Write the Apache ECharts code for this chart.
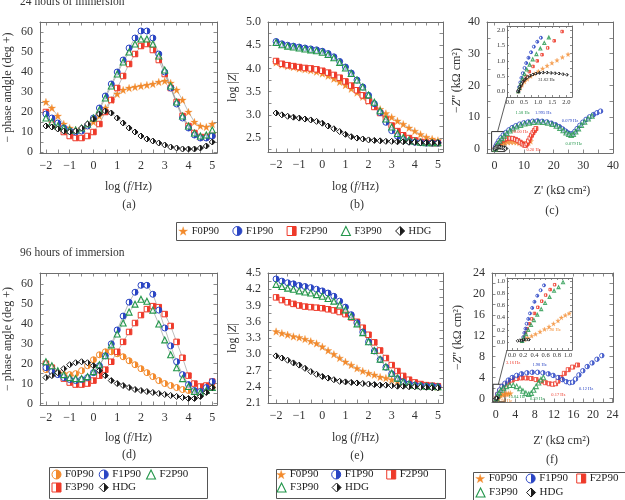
<!DOCTYPE html>
<html>
<head>
<meta charset="utf-8">
<script src="https://cdn.jsdelivr.net/npm/echarts@6/dist/echarts.min.js"></script>
<style>
  html, body { margin: 0; padding: 0; background: #fff; }
  #chart { width: 625px; height: 500px; }
</style>
</head>
<body>
<div id="chart"></div>
<script>
// ---- data ----
const logF = [-2, -1.75, -1.5, -1.25, -1, -0.75, -0.5, -0.25, 0, 0.25, 0.5, 0.75, 1, 1.25, 1.5, 1.75, 2, 2.25, 2.5, 2.75, 3, 3.25, 3.5, 3.75, 4, 4.25, 4.5, 4.75, 5];

// 24 h phase angle (deg)
const phase24_F0 = [25, 22, 18, 14, 12, 11, 11.5, 13, 15, 18, 22, 26, 29, 31, 32, 32.5, 33, 33.5, 34, 35, 35.5, 34.5, 31, 26, 20, 15, 13, 12.5, 14];
const phase24_F1 = [19, 17, 14.5, 12, 10.5, 10, 10.5, 13, 17, 22, 28, 34, 40, 46, 52, 57, 60.5, 60.5, 57, 49, 40, 32, 24, 17, 12, 8.5, 7, 7, 8];
const phase24_F2 = [20, 16, 13, 10, 8, 7, 7, 8, 10, 14, 20, 26, 32, 38, 44, 49, 53, 54, 51, 46, 39, 32, 25, 18, 13, 9.5, 7.5, 7.5, 8.5];
const phase24_F3 = [17, 15, 13, 12, 11, 11, 12, 14, 17, 21, 27, 33, 39, 45, 50, 54, 56.5, 56.5, 54, 48, 41, 33, 25, 18, 13, 9.5, 8, 8.5, 11];
const phase24_HDG = [13, 12.5, 11.5, 10.5, 10, 10.5, 12, 14, 16.5, 19, 20.5, 19.5, 17, 14.5, 12, 10, 8, 6.5, 5.5, 4.5, 3.5, 2.5, 2, 1.5, 1.5, 1.5, 2, 3, 5];

// 24 h log|Z|
const logZ24_F0 = [4.13, 4.08, 4.05, 4.03, 4.0, 3.98, 3.96, 3.93, 3.89, 3.84, 3.78, 3.71, 3.64, 3.56, 3.48, 3.39, 3.3, 3.21, 3.12, 3.03, 2.95, 2.87, 2.8, 2.72, 2.65, 2.58, 2.52, 2.48, 2.45];
const logZ24_F1 = [4.58, 4.53, 4.5, 4.48, 4.46, 4.44, 4.42, 4.4, 4.37, 4.32, 4.25, 4.15, 4.03, 3.9, 3.75, 3.6, 3.42, 3.24, 3.05, 2.84, 2.66, 2.54, 2.47, 2.43, 2.41, 2.4, 2.39, 2.39, 2.39];
const logZ24_F2 = [4.16, 4.1, 4.07, 4.05, 4.03, 4.01, 4.0, 3.98, 3.95, 3.91, 3.86, 3.8, 3.72, 3.63, 3.53, 3.42, 3.3, 3.17, 3.04, 2.9, 2.77, 2.65, 2.56, 2.5, 2.45, 2.42, 2.4, 2.39, 2.39];
const logZ24_F3 = [4.56, 4.51, 4.48, 4.46, 4.44, 4.42, 4.4, 4.38, 4.35, 4.3, 4.23, 4.13, 4.01, 3.89, 3.75, 3.6, 3.43, 3.27, 3.09, 2.91, 2.74, 2.6, 2.51, 2.46, 2.43, 2.41, 2.4, 2.4, 2.4];
const logZ24_HDG = [3.04, 3.0, 2.97, 2.95, 2.93, 2.91, 2.89, 2.86, 2.82, 2.76, 2.7, 2.64, 2.58, 2.53, 2.5, 2.48, 2.46, 2.45, 2.44, 2.43, 2.43, 2.42, 2.42, 2.41, 2.41, 2.4, 2.4, 2.4, 2.4];

// 24 h Nyquist (Z', -Z'') kOhm cm2
const nyq24_F0 = [[0.3, 0], [0.6, 0.5], [1.1, 0.9], [1.8, 1.3], [2.6, 1.6], [3.5, 1.9], [4.5, 2.1], [5.5, 2.2], [6.5, 2.2], [7.5, 2.1], [8.4, 1.9], [9.2, 1.7], [10.0, 1.6], [10.8, 1.7], [11.5, 2.0], [12.2, 2.4]];
const nyq24_F1 = [[0.28, 0], [0.4, 0.5], [0.6, 1.0], [0.95, 1.7], [1.5, 2.6], [2.2, 3.5], [3.0, 4.4], [3.9, 5.2], [4.9, 6.0], [6.0, 6.7], [7.2, 7.3], [8.5, 7.8], [9.9, 8.2], [11.4, 8.5], [12.9, 8.7], [14.5, 8.8], [16.1, 8.7], [17.7, 8.5], [19.2, 8.1], [20.6, 7.6], [21.9, 7.0], [23.0, 6.3], [24.0, 5.6], [24.9, 5.0], [25.7, 4.7], [26.4, 4.8], [27.1, 5.5], [27.9, 6.4], [28.8, 7.4], [29.8, 8.4], [30.9, 9.3], [32.1, 10.1], [33.4, 10.8], [34.6, 11.4], [35.8, 11.9]];
const nyq24_F2 = [[0.3, 0], [0.5, 0.5], [0.9, 1.1], [1.4, 1.7], [2.0, 2.2], [2.7, 2.7], [3.5, 3.0], [4.4, 3.25], [5.3, 3.35], [6.2, 3.3], [7.1, 3.0], [7.9, 2.6], [8.7, 2.1], [9.4, 1.6], [10.0, 1.2], [10.5, 1.1], [11.0, 1.6], [11.5, 2.5], [12.0, 3.4], [12.5, 4.3], [13.0, 5.1], [13.5, 5.8], [14.0, 6.4]];
const nyq24_F3 = [[0.28, 0], [0.45, 0.5], [0.7, 1.0], [1.2, 1.7], [1.8, 2.5], [2.5, 3.3], [3.3, 4.1], [4.2, 4.9], [5.2, 5.7], [6.3, 6.4], [7.5, 7.0], [8.8, 7.5], [10.2, 7.9], [11.7, 8.2], [13.2, 8.4], [14.8, 8.5], [16.4, 8.4], [18.0, 8.2], [19.5, 7.8], [20.9, 7.2], [22.1, 6.5], [23.2, 5.8], [24.2, 5.1], [25.1, 4.6], [25.9, 4.3], [26.6, 4.6], [27.4, 5.4], [28.3, 6.4], [29.3, 7.5], [30.4, 8.5], [31.6, 9.5], [32.9, 10.4]];
const nyq24_HDG = [[0.28, 0], [0.45, 0.35], [0.8, 0.58], [1.2, 0.63], [1.6, 0.6], [2.0, 0.55], [2.6, 0.42], [3.2, 0.25], [3.8, 0.12]];

// 24 h Nyquist inset (high-frequency end)
const ins24_F0 = [[0.3, 0.02], [0.36, 0.12], [0.43, 0.22], [0.52, 0.32], [0.62, 0.41], [0.74, 0.5], [0.87, 0.58], [1.01, 0.66], [1.16, 0.75], [1.32, 0.84], [1.49, 0.93], [1.67, 1.02], [1.86, 1.12], [2.06, 1.21]];
const ins24_F1 = [[0.3, 0.02], [0.33, 0.15], [0.37, 0.3], [0.41, 0.45], [0.46, 0.6], [0.52, 0.77], [0.58, 0.93], [0.66, 1.1], [0.75, 1.28], [0.85, 1.46], [0.97, 1.62], [1.1, 1.75]];
const ins24_F2 = [[0.3, 0.02], [0.35, 0.12], [0.41, 0.24], [0.49, 0.37], [0.58, 0.5], [0.69, 0.65], [0.82, 0.82], [0.97, 1.0], [1.14, 1.2], [1.34, 1.42], [1.57, 1.65], [1.85, 1.95]];
const ins24_F3 = [[0.3, 0.02], [0.34, 0.13], [0.39, 0.27], [0.45, 0.42], [0.52, 0.57], [0.6, 0.72], [0.7, 0.88], [0.81, 1.05], [0.94, 1.22], [1.08, 1.4], [1.22, 1.58], [1.38, 1.76]];
const ins24_HDG = [[0.3, 0.0], [0.33, 0.08], [0.37, 0.17], [0.42, 0.26], [0.48, 0.34], [0.55, 0.41], [0.63, 0.47], [0.72, 0.52], [0.82, 0.56], [0.93, 0.59], [1.05, 0.61], [1.18, 0.62], [1.32, 0.62], [1.46, 0.61], [1.6, 0.6], [1.74, 0.59], [1.88, 0.57], [2.02, 0.55]];

// 96 h phase angle (deg)
const phase96_F0 = [17, 16, 15, 14.5, 14.5, 15, 16.5, 19, 22, 24.5, 26, 26, 25, 23.5, 21.5, 19.5, 17.5, 15.5, 13.5, 11.5, 10, 9, 8, 7, 6.5, 6, 6.5, 7, 8];
const phase96_F1 = [18, 16, 14.5, 13, 12, 11.5, 12, 13, 15.5, 19, 24, 30, 37, 44, 51, 56, 59.5, 59.5, 55, 47, 38, 29, 21, 14.5, 9.5, 6.5, 6, 8, 11];
const phase96_F2 = [20, 18, 15, 12.5, 10.5, 9.5, 9.5, 10, 11.5, 14, 17, 21, 26, 31, 36, 40.5, 44.5, 47.5, 49, 48.5, 45, 39, 31, 23, 14, 10, 8.5, 9, 11];
const phase96_F3 = [21, 19, 16.5, 14.5, 13, 12.5, 12.5, 13.5, 16, 19.5, 24, 29.5, 35, 40.5, 46, 50, 52.5, 51.5, 47, 40, 32, 24.5, 18, 12.5, 8.5, 6, 5.5, 6.5, 8];
const phase96_HDG = [13, 14, 15.5, 17.5, 19.5, 20.5, 21, 20.5, 19, 16.5, 14, 11.5, 10, 9, 8, 7, 6.5, 6, 5.5, 5, 4.5, 4, 3.5, 3, 2.5, 2.5, 3.5, 5.5, 8];

// 96 h log|Z|
const logZ96_F0 = [3.42, 3.39, 3.36, 3.33, 3.31, 3.28, 3.24, 3.2, 3.14, 3.07, 3.0, 2.93, 2.86, 2.8, 2.74, 2.69, 2.65, 2.62, 2.58, 2.56, 2.53, 2.5, 2.48, 2.46, 2.44, 2.43, 2.42, 2.41, 2.4];
const logZ96_F1 = [4.39, 4.35, 4.32, 4.3, 4.27, 4.25, 4.23, 4.2, 4.17, 4.13, 4.07, 3.98, 3.87, 3.73, 3.58, 3.41, 3.23, 3.06, 2.9, 2.76, 2.64, 2.55, 2.49, 2.45, 2.43, 2.42, 2.41, 2.41, 2.4];
const logZ96_F2 = [4.05, 4.0, 3.96, 3.93, 3.9, 3.88, 3.87, 3.86, 3.85, 3.83, 3.81, 3.78, 3.74, 3.68, 3.6, 3.49, 3.36, 3.22, 3.07, 2.93, 2.8, 2.69, 2.6, 2.53, 2.48, 2.45, 2.43, 2.42, 2.41];
const logZ96_F3 = [4.29, 4.25, 4.22, 4.2, 4.17, 4.15, 4.13, 4.1, 4.07, 4.03, 3.98, 3.91, 3.82, 3.7, 3.56, 3.4, 3.23, 3.07, 2.91, 2.77, 2.65, 2.56, 2.49, 2.45, 2.43, 2.42, 2.41, 2.41, 2.4];
const logZ96_HDG = [2.97, 2.93, 2.89, 2.84, 2.8, 2.74, 2.68, 2.63, 2.59, 2.56, 2.53, 2.5, 2.49, 2.48, 2.47, 2.46, 2.45, 2.44, 2.43, 2.43, 2.42, 2.41, 2.41, 2.4, 2.4, 2.39, 2.39, 2.38, 2.38];

// 96 h Nyquist
const nyq96_F0 = [[0.2, 0], [0.4, 0.2], [0.7, 0.4], [1.0, 0.55], [1.4, 0.7], [1.8, 0.8], [2.2, 0.85], [2.6, 0.9], [3.0, 0.95]];
const nyq96_F1 = [[0.2, 0], [0.4, 0.8], [0.8, 1.6], [1.3, 2.3], [1.9, 2.9], [2.6, 3.5], [3.4, 4.0], [4.3, 4.4], [5.3, 4.7], [6.4, 4.9], [7.5, 5.0], [8.6, 5.0], [9.7, 4.9], [10.8, 4.7], [11.8, 4.4], [12.8, 4.0], [13.7, 3.6], [14.5, 3.2], [15.2, 3.0], [15.8, 3.1], [16.4, 3.7], [17.1, 4.5], [17.9, 5.3], [18.8, 6.1], [19.8, 6.8], [20.8, 7.5], [21.8, 8.2]];
const nyq96_F2 = [[0.2, 0], [0.4, 0.7], [0.8, 1.4], [1.3, 2.0], [1.9, 2.6], [2.6, 3.1], [3.4, 3.5], [4.3, 3.8], [5.3, 3.9], [6.3, 3.9], [7.3, 3.8], [8.3, 3.6], [9.3, 3.3], [10.2, 3.0], [11.0, 2.8], [11.7, 2.7], [12.3, 2.8], [12.8, 3.3], [13.4, 4.0], [14.1, 4.8], [14.9, 5.5], [15.8, 6.0], [16.8, 6.4]];
const nyq96_F3 = [[0.2, 0], [0.4, 0.6], [0.7, 1.1], [1.1, 1.6], [1.6, 2.0], [2.2, 2.3], [2.9, 2.5], [3.6, 2.5], [4.3, 2.3], [5.0, 1.9], [5.6, 1.4], [6.2, 1.0], [6.8, 0.8], [7.3, 1.0], [7.8, 1.6], [8.3, 2.3], [8.8, 3.0], [9.3, 3.6], [9.8, 4.0]];
const nyq96_HDG = [[0.1, 0], [0.2, 0.05], [0.3, 0.05]];

// 96 h Nyquist inset
const ins96_F0 = [[0.17, 0.02], [0.22, 0.04], [0.28, 0.07], [0.35, 0.1], [0.42, 0.13], [0.5, 0.17], [0.58, 0.21], [0.66, 0.25], [0.74, 0.3], [0.82, 0.35], [0.88, 0.4], [0.95, 0.44], [1.02, 0.47]];
const ins96_F1 = [[0.18, 0.02], [0.2, 0.08], [0.22, 0.15], [0.24, 0.22], [0.26, 0.3], [0.29, 0.38], [0.32, 0.47], [0.36, 0.56], [0.4, 0.66], [0.45, 0.76], [0.51, 0.85], [0.57, 0.93]];
const ins96_F2 = [[0.18, 0.02], [0.21, 0.08], [0.24, 0.15], [0.27, 0.22], [0.31, 0.3], [0.35, 0.38], [0.4, 0.47], [0.46, 0.57], [0.53, 0.67], [0.6, 0.77], [0.68, 0.86], [0.76, 0.94]];
const ins96_F3 = [[0.18, 0.02], [0.21, 0.07], [0.25, 0.13], [0.29, 0.2], [0.34, 0.28], [0.39, 0.36], [0.45, 0.45], [0.52, 0.54], [0.59, 0.64], [0.67, 0.74], [0.75, 0.84], [0.83, 0.9], [0.91, 0.98]];
const ins96_HDG = [[0.1, 0.02], [0.14, 0.03], [0.18, 0.03], [0.22, 0.04], [0.26, 0.04], [0.3, 0.04]];

// tick labels / tick marks
const LOGF_LABELS = [-2, -1, 0, 1, 2, 3, 4, 5];
const LOGF_TICKS = [-2, -1.5, -1, -0.5, 0, 0.5, 1, 1.5, 2, 2.5, 3, 3.5, 4, 4.5, 5];
const PHASE_LABELS = [0, 10, 20, 30, 40, 50, 60];
const PHASE_TICKS = [0, 5, 10, 15, 20, 25, 30, 35, 40, 45, 50, 55, 60];
const LOGZ24_LABELS = [2.5, 3.0, 3.5, 4.0, 4.5, 5.0];
const LOGZ24_TICKS = [2.25, 2.5, 2.75, 3, 3.25, 3.5, 3.75, 4, 4.25, 4.5, 4.75, 5];
const LOGZ96_LABELS = [2.1, 2.4, 2.7, 3.0, 3.3, 3.6, 3.9, 4.2, 4.5];
const LOGZ96_TICKS = [2.1, 2.25, 2.4, 2.55, 2.7, 2.85, 3, 3.15, 3.3, 3.45, 3.6, 3.75, 3.9, 4.05, 4.2, 4.35, 4.5];
const NYQ24_LABELS = [0, 10, 20, 30, 40];
const NYQ24_TICKS = [0, 5, 10, 15, 20, 25, 30, 35, 40];
const NYQ96_LABELS = [0, 4, 8, 12, 16, 20, 24];
const NYQ96_TICKS = [0, 2, 4, 6, 8, 10, 12, 14, 16, 18, 20, 22, 24];
const INS24_LABELS = [0, 0.5, 1.0, 1.5, 2.0];
const INS24_TICKS = [0, 0.25, 0.5, 0.75, 1, 1.25, 1.5, 1.75, 2];
const INS96_LABELS = [0, 0.2, 0.4, 0.6, 0.8, 1.0];
const INS96_TICKS = [0, 0.1, 0.2, 0.3, 0.4, 0.5, 0.6, 0.7, 0.8, 0.9, 1.0];

// frequency annotations on the Nyquist plots: [text, Z', -Z'', colour key]
const notesC = [['1.58 Hz', 9.5, 11.4, 'F3'], ['1.995 Hz', 16.5, 11.5, 'F1'], ['0.079 Hz', 25.5, 8.9, 'F1'], ['0.079 Hz', 26.8, 1.6, 'F3'], ['10.00 Hz', 8.6, 5.3, 'F2'], ['0.20 Hz', 13.2, -0.3, 'F2']];
const notesCInset = [['31.62 Hz', 1.3, 0.38, 'HDG']];
const notesF = [['3.16 Hz', 3.6, 6.9, 'F2'], ['1.98 Hz', 9.0, 6.5, 'F1'], ['0.12 Hz', 18.6, 1.8, 'F1'], ['0.17 Hz', 12.9, 0.6, 'F2'], ['15.84 Hz', 4.3, 0.3, 'F3'], ['0.39 Hz', 8.5, 0.0, 'F3'], ['7.90 Hz', 1.9, -0.5, 'F0']];
const notesFInset = [['7.90 Hz', 0.74, 0.2, 'F0']];

// ---- styling ----
const FONT = "'Liberation Serif', 'Times New Roman', serif";
const AX = '#6e6e6e';
const COL = { F0: '#f38a2c', F1: '#2a45c4', F2: '#ee3a2a', F3: '#22964a', HDG: '#1b1b1b' };
const NAME = { F0: 'F0P90', F1: 'F1P90', F2: 'F2P90', F3: 'F3P90', HDG: 'HDG' };
const STAR = 'path://M50,2 L61,36 L97,36 L68,57 L79,92 L50,71 L21,92 L32,57 L3,36 L39,36 Z';

const halfFill = (c) => ({
  type: 'linear', x: 0, y: 0, x2: 1, y2: 0,
  colorStops: [{ offset: 0, color: '#fff' }, { offset: 0.5, color: '#fff' }, { offset: 0.5, color: c }, { offset: 1, color: c }]
});

const shapeStyle = (shape, c, size) => {
  if (shape === 'star') return { symbol: STAR, symbolSize: size + 1.5, itemStyle: { color: c, borderColor: c, borderWidth: 0.3 } };
  if (shape === 'triangle') return { symbol: 'triangle', symbolSize: size, itemStyle: { color: 'rgba(255,255,255,0.6)', borderColor: c, borderWidth: 1.1 } };
  return { symbol: shape, symbolSize: shape === 'rect' ? size - 0.5 : size, itemStyle: { color: halfFill(c), borderColor: c, borderWidth: 1 } };
};

const SHAPES_STD = { F0: 'star', F1: 'circle', F2: 'rect', F3: 'triangle', HDG: 'diamond' };
const SHAPES_D = { F0: 'circle', F1: 'circle', F2: 'rect', F3: 'triangle', HDG: 'diamond' };

const signed = v => (v < 0 ? '\u2212' + (-v) : String(v));
const oneDec = v => v.toFixed(1);

const richName = {
  n: { fontFamily: FONT, fontSize: 12, color: '#333' },
  i: { fontFamily: FONT, fontSize: 12, color: '#333', fontStyle: 'italic' }
};
const LOGF_NAME = '{n|log (}{i|f}{n|/Hz)}';
const ZRE_NAME = "{n|Z' (k\u03a9 cm\u00b2)}";
const ZIM_NAME = "{n|\u2212}{i|Z}{n|'' (k\u03a9 cm\u00b2)}";

// ---- panels: grid box + axis specs ----
const panels = [
  { grid: { left: 40, top: 22, width: 177, height: 131 },
    x: { min: -2.25, max: 5.2, labels: LOGF_LABELS, ticks: LOGF_TICKS, fmt: signed, name: LOGF_NAME, gap: 28 },
    y: { min: -0.5, max: 65, labels: PHASE_LABELS, ticks: PHASE_TICKS, fmt: String, name: '{n|\u2212 phase andgle (deg +)}', gap: 26 } },
  { grid: { left: 268, top: 22, width: 175, height: 130 },
    x: { min: -2.35, max: 5.22, labels: LOGF_LABELS, ticks: LOGF_TICKS, fmt: signed, name: LOGF_NAME, gap: 29 },
    y: { min: 2.2, max: 5.0, labels: LOGZ24_LABELS, ticks: LOGZ24_TICKS, fmt: oneDec, name: '{n|log |}{i|Z}{n||}', gap: 29 } },
  { grid: { left: 487, top: 22, width: 126, height: 131 },
    x: { min: -2.5, max: 40, labels: NYQ24_LABELS, ticks: NYQ24_TICKS, fmt: String, name: ZRE_NAME, gap: 32, pad: [0, 0, 0, 24] },
    y: { min: -1.3, max: 40, labels: NYQ24_LABELS, ticks: NYQ24_TICKS, fmt: String, name: ZIM_NAME, gap: 24, pad: [0, 0, 0, 14] } },
  { grid: { left: 507, top: 26, width: 65, height: 71 }, small: true,
    x: { min: -0.1, max: 2.2, labels: INS24_LABELS, ticks: INS24_TICKS, fmt: oneDec },
    y: { min: -0.17, max: 2.13, labels: INS24_LABELS, ticks: INS24_TICKS, fmt: oneDec } },
  { grid: { left: 40, top: 273, width: 177, height: 132 },
    x: { min: -2.25, max: 5.2, labels: LOGF_LABELS, ticks: LOGF_TICKS, fmt: signed, name: LOGF_NAME, gap: 27 },
    y: { min: -0.8, max: 65.7, labels: PHASE_LABELS, ticks: PHASE_TICKS, fmt: String, name: '{n|\u2212 phase angle (deg +)}', gap: 26 } },
  { grid: { left: 268, top: 273, width: 175, height: 130 },
    x: { min: -2.35, max: 5.22, labels: LOGF_LABELS, ticks: LOGF_TICKS, fmt: signed, name: LOGF_NAME, gap: 29 },
    y: { min: 2.1, max: 4.5, labels: LOGZ96_LABELS, ticks: LOGZ96_TICKS, fmt: oneDec, name: '{n|log |}{i|Z}{n||}', gap: 29 } },
  { grid: { left: 492, top: 273, width: 121, height: 129 },
    x: { min: -0.76, max: 24.1, labels: NYQ96_LABELS, ticks: NYQ96_TICKS, fmt: String, name: ZRE_NAME, gap: 33, pad: [0, 0, 0, 18] },
    y: { min: -0.7, max: 24.05, labels: NYQ96_LABELS, ticks: NYQ96_TICKS, fmt: String, name: ZIM_NAME, gap: 28 } },
  { grid: { left: 507, top: 278, width: 65, height: 72 }, small: true,
    x: { min: -0.09, max: 1.07, labels: INS96_LABELS, ticks: INS96_TICKS, fmt: oneDec },
    y: { min: -0.13, max: 1.05, labels: INS96_LABELS, ticks: INS96_TICKS, fmt: oneDec } }
];

const grids = [];
const xAxes = [];
const yAxes = [];

const makeAxis = (dim, gi, spec, small, main) => {
  const ax = {
    type: 'value', gridIndex: gi, min: spec.min, max: spec.max,
    position: dim === 'x' ? (main ? 'bottom' : 'top') : (main ? 'left' : 'right'),
    splitLine: { show: false },
    axisLine: { show: true, onZero: false, lineStyle: { color: AX, width: 1 } },
    axisTick: { show: true, inside: true, length: small ? 2 : 3.5, customValues: spec.ticks, lineStyle: { color: AX, width: 0.8 } },
    axisLabel: main
      ? { show: true, customValues: spec.labels, formatter: spec.fmt, fontFamily: FONT, fontSize: small ? 6.5 : 12, color: '#333', margin: small ? 2 : 7 }
      : { show: false, customValues: spec.labels }
  };
  if (main && spec.name) {
    ax.name = spec.name;
    ax.nameLocation = 'middle';
    ax.nameGap = spec.gap;
    ax.nameTextStyle = { rich: richName, padding: spec.pad || 0 };
  }
  return ax;
};

panels.forEach((p, gi) => {
  grids.push(Object.assign({ containLabel: false, outerBoundsMode: 'none' }, p.grid));
  xAxes.push(makeAxis('x', gi, p.x, p.small, true), makeAxis('x', gi, p.x, p.small, false));
  yAxes.push(makeAxis('y', gi, p.y, p.small, true), makeAxis('y', gi, p.y, p.small, false));
});

// ---- series ----
const ORDER = ['F0', 'F2', 'F1', 'F3', 'HDG'];
const series = [];

const addBode = (gi, sets, shapes) => {
  ORDER.forEach(k => {
    series.push(Object.assign({
      type: 'line', name: NAME[k], xAxisIndex: 2 * gi, yAxisIndex: 2 * gi,
      data: logF.map((f, i) => [f, sets[k][i]]),
      lineStyle: { width: 0.6, color: '#8f8f8f' },
      emphasis: { disabled: true }, z: 3
    }, shapeStyle(shapes[k], COL[k], 6)));
  });
};

const addNyq = (gi, sets, size) => {
  ORDER.forEach(k => {
    series.push(Object.assign({
      type: 'scatter', name: NAME[k], xAxisIndex: 2 * gi, yAxisIndex: 2 * gi,
      data: sets[k], clip: true, emphasis: { disabled: true }, z: 3
    }, shapeStyle(SHAPES_STD[k], COL[k], size)));
  });
};

addBode(0, { F0: phase24_F0, F1: phase24_F1, F2: phase24_F2, F3: phase24_F3, HDG: phase24_HDG }, SHAPES_STD);
addBode(1, { F0: logZ24_F0, F1: logZ24_F1, F2: logZ24_F2, F3: logZ24_F3, HDG: logZ24_HDG }, SHAPES_STD);
addNyq(2, { F0: nyq24_F0, F1: nyq24_F1, F2: nyq24_F2, F3: nyq24_F3, HDG: nyq24_HDG }, 4.5);
addNyq(3, { F0: ins24_F0, F1: ins24_F1, F2: ins24_F2, F3: ins24_F3, HDG: ins24_HDG }, 3);
addBode(4, { F0: phase96_F0, F1: phase96_F1, F2: phase96_F2, F3: phase96_F3, HDG: phase96_HDG }, SHAPES_D);
addBode(5, { F0: logZ96_F0, F1: logZ96_F1, F2: logZ96_F2, F3: logZ96_F3, HDG: logZ96_HDG }, SHAPES_STD);
addNyq(6, { F0: nyq96_F0, F1: nyq96_F1, F2: nyq96_F2, F3: nyq96_F3, HDG: nyq96_HDG }, 4.5);
addNyq(7, { F0: ins96_F0, F1: ins96_F1, F2: ins96_F2, F3: ins96_F3, HDG: ins96_HDG }, 3);

// zoom boxes near the Nyquist origins (drawn as mark areas on the HDG series)
const boxC = [[-0.95, -0.85], [3.55, 5.45]];
const boxF = [[-0.55, -0.65], [1.9, 2.7]];
const markBox = (b) => ({
  silent: true,
  itemStyle: { color: 'rgba(0,0,0,0)', borderColor: '#333', borderWidth: 1 },
  data: [[{ coord: b[0] }, { coord: b[1] }]]
});
series.find(s => s.xAxisIndex === 4 && s.name === 'HDG').markArea = markBox(boxC);
series.find(s => s.xAxisIndex === 12 && s.name === 'HDG').markArea = markBox(boxF);

// ---- legends ----
const legendItem = (k, shape, colKey) => {
  const st = shapeStyle(shape, COL[colKey || k], 9);
  return { name: NAME[k], icon: st.symbol, itemStyle: st.itemStyle };
};
const makeLegend = (left, top, gap, fs, items) => ({
  left, top, orient: 'horizontal', itemGap: gap, itemWidth: 9, itemHeight: 9,
  padding: 0, selectedMode: false, data: items,
  textStyle: { fontFamily: FONT, fontSize: fs, color: '#222', padding: [0, 0, 0, -1] }
});

const legends = [
  makeLegend(178.5, 225.5, 13.3, 10.5, ['F0', 'F1', 'F2', 'F3', 'HDG'].map(k => legendItem(k, SHAPES_STD[k]))),
  makeLegend(51.5, 469, 5, 11, [legendItem('F0', 'circle'), legendItem('F1', 'circle'), legendItem('F2', 'triangle', 'F3')]),
  makeLegend(51.5, 482, 5, 11, [legendItem('F3', 'rect', 'F2'), legendItem('HDG', 'diamond')]),
  makeLegend(276.5, 469, 12.8, 11, ['F0', 'F1', 'F2'].map(k => legendItem(k, SHAPES_STD[k]))),
  makeLegend(276.5, 482, 12.8, 11, ['F3', 'HDG'].map(k => legendItem(k, SHAPES_STD[k]))),
  makeLegend(475.5, 473, 8.3, 11, ['F0', 'F1', 'F2'].map(k => legendItem(k, SHAPES_STD[k]))),
  makeLegend(475.5, 487, 8.3, 11, ['F3', 'HDG'].map(k => legendItem(k, SHAPES_STD[k])))
];

const chart = echarts.init(document.getElementById('chart'), null, { renderer: 'canvas', width: 625, height: 500 });
chart.setOption({
  animation: false,
  backgroundColor: '#fff',
  textStyle: { fontFamily: FONT },
  grid: grids,
  xAxis: xAxes,
  yAxis: yAxes,
  legend: legends,
  series
});

// ---- decorations: titles, panel letters, legend frames, inset connectors, notes ----
const txt = (x, y, s, size, align, color) => ({
  type: 'text', x, y, silent: true, z: 10,
  style: { text: s, fontFamily: FONT, fontSize: size, fill: color || '#333', align: align || 'center', verticalAlign: 'middle' }
});
const rect = (x, y, w, h) => ({
  type: 'rect', silent: true, z: 10,
  shape: { x: x + 0.5, y: y + 0.5, width: w, height: h },
  style: { fill: 'none', stroke: '#555', lineWidth: 1 }
});
const toPx = (gi, x, y) => chart.convertToPixel({ gridIndex: gi }, [x, y]);

const deco = [
  txt(20, 1.5, '24 hours of immersion', 11.5, 'left'),
  txt(20, 252.5, '96 hours of immersion', 11.5, 'left'),
  txt(129, 205, '(a)', 12), txt(357, 205, '(b)', 12), txt(552, 211, '(c)', 12),
  txt(129, 455, '(d)', 12), txt(357, 456, '(e)', 12), txt(552, 460, '(f)', 12),
  rect(176, 222, 269, 18), rect(49, 467, 158, 31), rect(276, 469, 169, 29), rect(473, 472, 170, 28)
];

const connector = (gi, box, inset) => {
  const a = toPx(gi, box[0][0] + (box[1][0] - box[0][0]) * 0.45, box[1][1]);
  const g = panels[inset].grid;
  return { type: 'line', silent: true, z: 10, shape: { x1: a[0], y1: a[1], x2: g.left, y2: g.top + g.height }, style: { stroke: '#333', lineWidth: 0.8 } };
};
deco.push(connector(2, boxC, 3), connector(6, boxF, 7));

const addNotes = (gi, notes) => notes.forEach(([s, x, y, k]) => {
  const p = toPx(gi, x, y);
  deco.push(txt(p[0], p[1], s, 4.5, 'center', COL[k]));
});
addNotes(2, notesC);
addNotes(3, notesCInset);
addNotes(6, notesF);
addNotes(7, notesFInset);

chart.setOption({ graphic: deco });
</script>
</body>
</html>
